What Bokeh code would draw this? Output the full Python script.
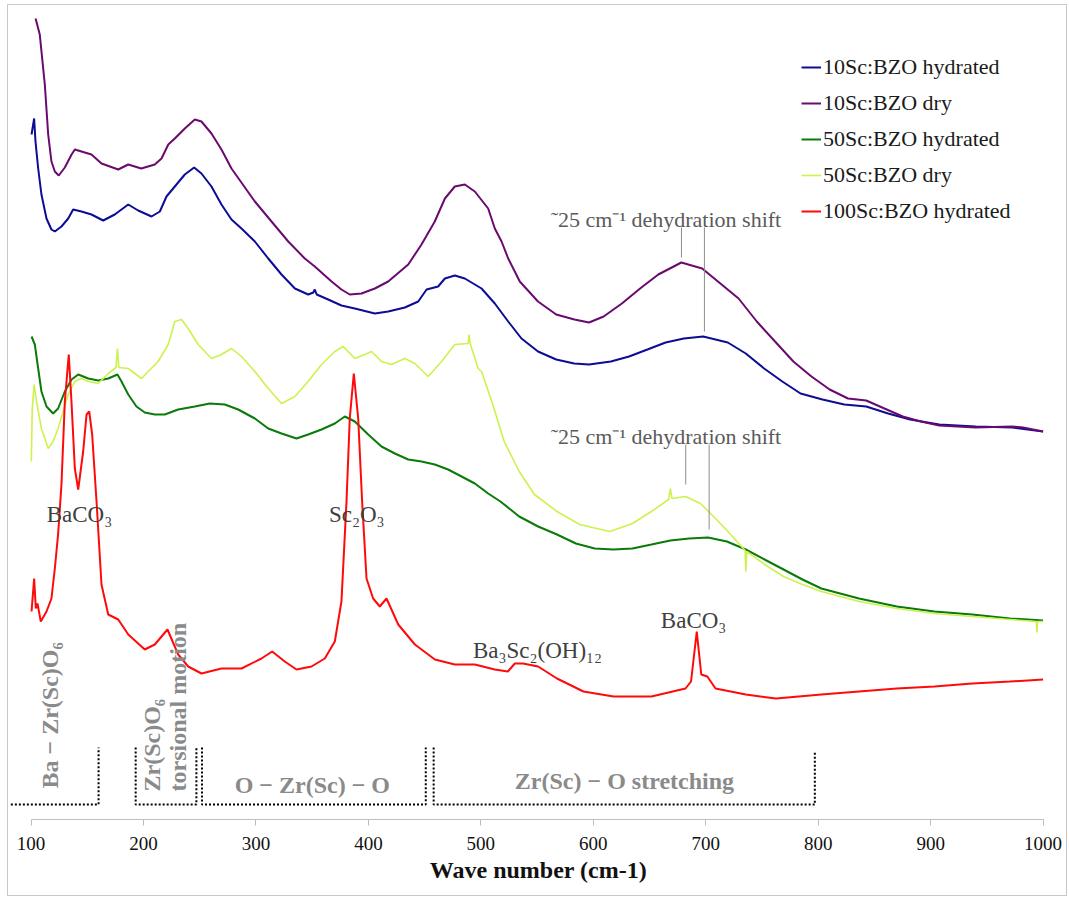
import math
from bokeh.plotting import figure
from bokeh.models import Range1d, FixedTicker, Label
from bokeh.embed import file_html
from bokeh.resources import INLINE

SERIF = "Liberation Serif"

# Raman spectra: wave number (cm-1) and intensity (arbitrary units, traces stacked)
wn_10sc_hyd = [100.4, 102.7, 103.9, 106.3, 109.2, 113.7, 118.1, 121.1, 127, 133, 137.4, 144.8, 153.7, 164.1,
               174.4, 186.4, 195.2, 207.1, 214.5, 220.4, 227.8, 236.7, 245, 251.5, 260.4, 269.3, 278.2, 287.1,
               299, 310.9, 322.7, 334.6, 346.4, 351, 352.3, 354, 364.2, 376, 387.9, 405.7, 417.6, 432.4, 444.3,
               451.7, 462, 468, 476.8, 485.7, 500.6, 512.4, 524.3, 536.1, 550.8, 567, 583, 596.2, 615.6, 631.8,
               648.1, 664.3, 680.5, 697.7, 719.6, 735.6, 751.9, 768.1, 784.3, 803.8, 823.2, 842.7, 862.2, 881.7,
               907.6, 940, 972.5, 1000]
int_10sc_hyd = [685, 701, 678, 651, 625, 601, 590, 588, 593, 601, 610, 608, 605, 599,
                605, 615, 609, 603, 608, 623, 633, 645, 652, 646, 633, 615, 600, 591,
                578, 561, 545, 531, 525, 527, 530, 525, 520, 514, 511, 506, 508, 512, 518,
                530, 533, 541, 544, 541, 531, 516, 498, 481, 468, 460, 456, 455, 458, 463,
                470, 477, 481, 483, 477, 466, 451, 438, 426, 420, 415, 413, 406, 400,
                395, 393, 392, 388]

wn_10sc_dry = [104, 107.7, 112.2, 115.2, 118.1, 121.1, 124.6, 130, 136, 138.9, 144.8, 153.7, 162.6, 177.5,
               186.4, 198, 210, 216, 222, 227.8, 236.7, 245.6, 251.5, 260.4, 269.3, 278.2, 299, 313.8, 328.7,
               343.4, 352.3, 367.2, 376, 383.4, 393.8, 405.7, 417.6, 435.4, 447.2, 459, 468, 476.8, 485.7,
               494.6, 506.5, 512.4, 518.4, 524.3, 534.6, 550.8, 567, 583.2, 596.2, 609.2, 625.4, 641.6, 657.8,
               678.3, 696.8, 713, 729.2, 745.4, 761.6, 777.9, 794, 810.2, 826.5, 842.7, 858.9, 875.2, 891.3,
               907.6, 940, 972.5, 982.2, 1000]
int_10sc_dry = [801, 785, 735, 685, 658, 648, 644, 652, 665, 670, 668, 665, 656, 650,
                655, 651, 655, 661, 675, 681, 691, 700, 698, 686, 670, 651, 618, 598, 578,
                561, 553, 538, 530, 525, 526, 531, 538, 555, 575, 598, 621, 633, 635,
                628, 611, 591, 578, 561, 538, 518, 505, 500, 497, 503, 516, 531, 545,
                557, 551, 536, 521, 498, 478, 458, 443, 430, 421, 419, 411, 403, 398,
                394, 392, 393, 392, 388]

wn_50sc_hyd = [100.4, 103.3, 106.3, 109.2, 113.7, 119.6, 124, 130, 136, 141.9, 150.8, 159.7, 168.6, 176.8,
               180.4, 186.4, 193.7, 201.1, 210, 218.9, 230.8, 245.6, 258.9, 272.3, 284.2, 299, 310.9, 322.7,
               336, 346.4, 358.3, 370.1, 379, 387.9, 399.8, 411.6, 423.5, 435.4, 447.2, 459, 470.9, 482.8,
               494.6, 500.6, 506.5, 517.4, 534.1, 550.9, 567.7, 584.5, 601.2, 618, 634.8, 651.7, 668.5, 685.2,
               702, 718.8, 735.6, 752.3, 769.2, 786, 802.8, 836.3, 869.9, 903.4, 937, 970.6, 1000]
int_50sc_hyd = [483, 475, 451, 428, 413, 406, 411, 428, 440, 445, 441, 439, 441, 445,
                438, 425, 413, 407, 405, 405, 410, 413, 416, 415, 410, 401, 391, 386,
                381, 385, 390, 396, 403, 398, 385, 373, 366, 360, 358, 355, 350, 343,
                336, 331, 326, 318, 303, 293, 285, 276, 271, 270, 271, 275, 279, 281,
                282, 278, 270, 260, 250, 240, 231, 221, 213, 208, 205, 201, 199]

wn_50sc_dry = [100.2, 101, 102.7, 104.8, 109.2, 115.2, 119.6, 124, 128.5, 133, 138.9, 144.8, 150.8, 159.7,
               168.6, 175.5, 176.8, 178, 186.4, 198.2, 204.1, 213, 221.9, 227.8, 233.8, 239.7, 248.6, 260.4,
               269.3, 278.2, 287.1, 299, 310.9, 322.7, 334.6, 346.4, 358.3, 370.1, 377.6, 387.9, 396.8, 402.7,
               411.6, 420.5, 432.4, 441.3, 453.2, 465, 476.8, 488.7, 489.5, 490.5, 497.6, 500.6, 510.6, 520.7,
               534.1, 547.6, 567.7, 587.9, 614.7, 634.8, 651.7, 667, 668.5, 670, 682, 695.3, 708.7, 722.2,
               735, 735.6, 736.5, 752.3, 769.2, 786, 802.8, 836.3, 869.9, 903.4, 937, 970.6, 994, 994.5,
               995, 1000]
int_50sc_dry = [358, 410, 435, 418, 391, 371, 378, 391, 408, 425, 438, 441, 438, 436,
                446, 452, 471, 452, 451, 441, 448, 458, 475, 498, 500, 491, 475, 461,
                465, 471, 463, 448, 431, 416, 423, 438, 455, 468, 473, 461, 465, 468,
                458, 455, 461, 456, 443, 458, 475, 476, 485, 476, 451, 448, 415, 378,
                348, 325, 308, 295, 288, 296, 308, 320, 331, 321, 323, 316, 301, 285,
                269, 248, 268, 255, 243, 235, 228, 218, 211, 206, 203, 200, 198, 187,
                198, 198]

wn_100sc_hyd = [100.4, 102.7, 104.2, 105.7, 108.6, 113.7, 118.1, 121.1, 124, 127, 130, 133.5, 135.9, 138.9,
                141.9, 146.3, 149.3, 151.7, 154.3, 158.2, 162.6, 168.6, 177.5, 186.4, 201.1, 210, 221.3, 230.8,
                239.7, 251.5, 269.3, 287.1, 304.9, 314.4, 325.6, 336, 349.4, 361.2, 370.1, 376, 380.5, 383.4,
                387, 390.9, 394.4, 398.3, 404.2, 410.1, 416.1, 426.5, 441.3, 459.1, 476.8, 494.6, 512.4, 524,
                530.2, 537.5, 550.9, 567.7, 591.2, 618, 651.7, 682, 686.9, 692, 696, 701.4, 708.7, 735.6,
                762.5, 802.8, 836.3, 869.9, 903.4, 937, 970.6, 1000]
int_100sc_hyd = [208, 241, 211, 216, 198, 208, 221, 251, 285, 335, 418, 465, 418, 351,
                 330, 368, 405, 408, 385, 318, 235, 205, 200, 185, 170, 175, 190, 165,
                 153, 146, 151, 151, 161, 168, 158, 150, 153, 161, 178, 218, 318, 401,
                 446, 401, 318, 241, 221, 213, 221, 195, 175, 160, 155, 155, 150, 148,
                 156, 156, 153, 141, 128, 123, 123, 131, 138, 188, 145, 143, 131, 125,
                 121, 125, 128, 131, 133, 136, 138, 140]

series_names = ["10Sc:BZO hydrated", "10Sc:BZO dry", "50Sc:BZO hydrated", "50Sc:BZO dry", "100Sc:BZO hydrated"]
series_colors = ["#0c0c94", "#6a0a6e", "#0a7a0a", "#ccf24e", "#ff0a0a"]
series_widths = [2, 2, 2, 1.6, 2]
series_x = [wn_10sc_hyd, wn_10sc_dry, wn_50sc_hyd, wn_50sc_dry, wn_100sc_hyd]
series_y = [int_10sc_hyd, int_10sc_dry, int_50sc_hyd, int_50sc_dry, int_100sc_hyd]

wn_ticks = [100, 200, 300, 400, 500, 600, 700, 800, 900, 1000]

# phase assignments written next to peaks
phase_labels = ["BaCO\u2083", "Sc\u2082O\u2083", "Ba\u2083Sc\u2082(OH)\u2081\u2082", "BaCO\u2083"]
phase_x = [143, 389.6, 550.4, 689.2]
phase_y = [305, 305, 169, 199]

# dehydration shift markers (hydrated vs dry band maximum)
shift_text = "\u02dc25 cm\u207b\u00b9 dehydration shift"
shift_text_x = [664.6, 664.6]
shift_text_y = [600, 383]
shift_peak_x = [678.4, 698.8, 682.2, 703.0]
shift_line_top = [592, 592, 375, 375]
shift_line_bottom = [562, 488, 335, 290]

# vibrational band regions
band_start = [82, 193, 252, 458]
band_end = [160, 247, 451, 797]
band_left_edge = [False, True, True, True]
band_base = 15
band_top = [72, 72, 72, 67]

p = figure(width=1060, height=892, output_backend="svg", toolbar_location=None,
           x_range=Range1d(79.9, 1022.6), y_range=Range1d(0, 814),
           y_axis_location=None,
           min_border_left=0, min_border_right=0, min_border_top=0, min_border_bottom=78,
           margin=(4, 0, 0, 7), styles={"border": "1px solid #c8c8c8"})
p.outline_line_color = None
p.grid.visible = False
p.background_fill_color = None
p.border_fill_color = None

for name, color, lw, xs, ys in zip(series_names, series_colors, series_widths, series_x, series_y):
    p.line(xs, ys, line_color=color, line_width=lw, legend_label=name)

# band brackets (dotted)
bx, by = [], []
for s, e, left, top in zip(band_start, band_end, band_left_edge, band_top):
    if left:
        bx.append([s, s, e, e])
        by.append([72, band_base, band_base, top])
    else:
        bx.append([s, e, e])
        by.append([band_base, band_base, top])
p.multi_line(bx, by, line_color="black", line_width=2, line_dash="2 2")

# shift marker lines
p.segment(x0=shift_peak_x, y0=shift_line_top, x1=shift_peak_x, y1=shift_line_bottom,
          line_color="#8c8c8c", line_width=1)

for t, x, y in zip(phase_labels, phase_x, phase_y):
    p.add_layout(Label(x=x, y=y, text=t, text_align="center", text_baseline="alphabetic",
                       text_font=SERIF, text_font_size="23px", text_color="#404040"))

for x, y in zip(shift_text_x, shift_text_y):
    p.add_layout(Label(x=x, y=y, text=shift_text, text_align="center", text_baseline="alphabetic",
                       text_font=SERIF, text_font_size="22px", text_color="#5a5a5a"))

band_color = "#8a8a8a"
rot_labels = [("Ba \u2212 Zr(Sc)O\u2086", 116.4, 31), ("Zr(Sc)O\u2086", 207.2, 28), ("torsional motion", 230.7, 28)]
for t, x, y in rot_labels:
    p.add_layout(Label(x=x, y=y, text=t, angle=math.pi / 2, text_align="left", text_baseline="middle",
                       text_font=SERIF, text_font_size="24px", text_font_style="bold", text_color=band_color))
flat_labels = [("O \u2212 Zr(Sc) \u2212 O", 350.1, 35), ("Zr(Sc) \u2212 O stretching", 627.7, 39)]
for t, x, y in flat_labels:
    p.add_layout(Label(x=x, y=y, text=t, text_align="center", text_baseline="middle",
                       text_font=SERIF, text_font_size="24px", text_font_style="bold", text_color=band_color))

ax = p.xaxis[0]
ax.bounds = (100, 1000)
ax.ticker = FixedTicker(ticks=wn_ticks)
ax.axis_label = "Wave number (cm-1)"
ax.axis_label_text_font = SERIF
ax.axis_label_text_font_size = "24px"
ax.axis_label_text_font_style = "bold"
ax.axis_label_text_color = "#111111"
ax.axis_label_standoff = 4
ax.major_label_text_font = SERIF
ax.major_label_text_font_size = "19px"
ax.major_label_text_color = "#111111"
ax.major_label_standoff = 11
ax.axis_line_color = "#bdbdbd"
ax.major_tick_line_color = "#bdbdbd"
ax.major_tick_in = 0
ax.major_tick_out = 6
ax.minor_tick_line_color = None

leg = p.legend[0]
leg.location = (793, 595)
leg.padding = 0
leg.margin = 0
leg.spacing = 10
leg.glyph_width = 20
leg.glyph_height = 22
leg.label_height = 22
leg.label_standoff = 2
leg.border_line_color = None
leg.background_fill_alpha = 0
leg.label_text_font = SERIF
leg.label_text_font_size = "22px"
leg.label_text_color = "#1a1a1a"

open("out.html", "w").write(file_html(p, INLINE))
